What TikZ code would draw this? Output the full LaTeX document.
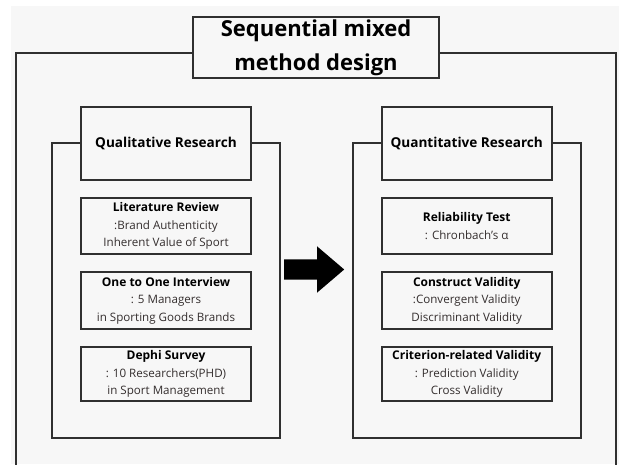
\documentclass[tikz,border=0pt]{standalone}
\usepackage{fontspec}
\setmainfont{Open Sans}
\usetikzlibrary{shapes.arrows}
\definecolor{bg}{HTML}{F7F7F7}
\definecolor{linec}{HTML}{303030}
\definecolor{bodyc}{HTML}{342E2E}
\begin{document}
\begin{tikzpicture}[x=1pt,y=-1pt,line join=miter,
  frame/.style={draw=linec,line width=2pt},
  framebox/.style={draw=linec,line width=2pt,minimum width=228pt,minimum height=295pt,inner sep=0pt},
  hdr/.style={draw=linec,line width=1.8pt,fill=bg,minimum width=170pt,minimum height=73pt,inner sep=0pt,
    font=\fontsize{13.6}{16}\selectfont\bfseries,text=black},
  itembox/.style={draw=linec,line width=1.6pt,fill=bg,minimum width=170pt,inner sep=0pt,align=center,
    font=\fontsize{11.6}{17.5}\selectfont,text=bodyc},
  ititle/.style={font=\fontsize{12}{17.5}\selectfont\bfseries},
  titlebox/.style={draw=linec,line width=1.6pt,fill=bg,minimum width=246pt,minimum height=61pt,inner sep=0pt,
    align=center,font=\fontsize{22}{34}\selectfont\bfseries,text=black},
  blockarrow/.style={single arrow,fill=black,draw=none,minimum height=60pt,minimum width=46pt,
    inner xsep=0pt,inner ysep=10pt,single arrow head extend=13pt,single arrow tip angle=81}]
\useasboundingbox (0,0) rectangle (619,464);
\fill[white] (0,0) rectangle (619,464);
\fill[bg] (11,6) rectangle (619,464);
% title and outer frame
\node[titlebox] (title) at (316,47.5) {Sequential mixed\\method design};
\coordinate (otl) at (16,53);
\coordinate (otr) at (616,53);
\coordinate (obl) at (16,470);
\coordinate (obr) at (616,470);
\draw[frame] (otl -| title.west) -- (otl) -- (obl);
\draw[frame] (otr -| title.east) -- (otr) -- (obr);
% frames
\node[framebox] (qualf) at (166,290.5) {};
\node[framebox] (quanf) at (466.7,290.5) {};
% headers
\node[hdr] (qual) at (166,143.5) {Qualitative Research};
\node[hdr] (quan) at (466.7,143.5) {Quantitative Research};
% left items
\node[itembox,minimum height=56pt] (lit) at (166,226) {{\fontsize{12}{17.5}\selectfont\bfseries\color{black}Literature Review}\\:Brand Authenticity\\Inherent Value of Sport};
\node[itembox,minimum height=57pt] (int) at (166,300.5) {{\fontsize{12}{17.5}\selectfont\bfseries\color{black}One to One Interview}\\: 5 Managers\\in Sporting Goods Brands};
\node[itembox,minimum height=54pt] (dep) at (166,374) {{\fontsize{12}{17.5}\selectfont\bfseries\color{black}Dephi Survey}\\: 10 Researchers(PHD)\\in Sport Management};
% right items
\node[itembox,minimum height=56pt] (rel) at (466.7,226) {{\fontsize{12}{17.5}\selectfont\bfseries\color{black}Reliability Test}\\: Chronbach's α};
\node[itembox,minimum height=57pt] (con) at (466.7,300.5) {{\fontsize{12}{17.5}\selectfont\bfseries\color{black}Construct Validity}\\:Convergent Validity\\Discriminant Validity};
\node[itembox,minimum height=54pt] (cri) at (466.7,374) {{\fontsize{12}{17.5}\selectfont\bfseries\color{black}Criterion-related Validity}\\: Prediction Validity\\Cross Validity};
% arrow
\node[blockarrow,anchor=tail] (arr) at (284,269.5) {};
\end{tikzpicture}
\end{document}
